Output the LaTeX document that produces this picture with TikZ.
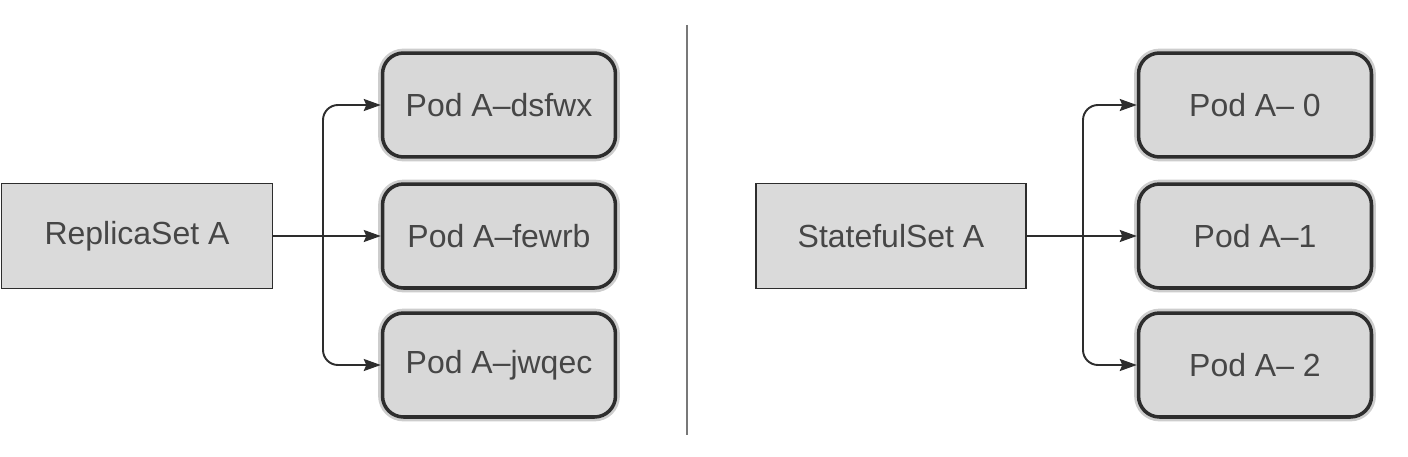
\documentclass[tikz,border=0pt]{standalone}
\usepackage{fontspec}
\setmainfont{Liberation Sans}
\usepackage{tikz}
\usetikzlibrary{arrows.meta,positioning,calc}
\definecolor{boxgray}{RGB}{218, 218, 218}
\definecolor{podgray}{RGB}{216, 216, 216}
\definecolor{edgedark}{RGB}{45, 45, 45}
\definecolor{textgray}{RGB}{70, 70, 70}
\definecolor{glowgray}{RGB}{205, 205, 205}
\definecolor{divgray}{RGB}{120, 120, 120}

\begin{document}
\begin{tikzpicture}[x=0.02cm,y=-0.02cm,
    font=\fontsize{18.2}{20}\selectfont, text=textgray,
    setbox/.style={draw=edgedark, line width=1.1pt, fill=boxgray,
        minimum width=5.42cm, minimum height=2.1cm},
    podbox/.style={draw=edgedark, line width=2pt, fill=podgray,
        rounded corners=0.42cm, minimum width=4.66cm, minimum height=2.08cm,
        preaction={draw=glowgray, line width=5pt}},
    link/.style={draw=edgedark, line width=1.1pt,
        -{Stealth[length=0.34cm,width=0.24cm,inset=0.05cm]}},
    divider/.style={draw=divgray, line width=1.6pt}]
    \useasboundingbox (0,0) rectangle (1408,456);
    % left half
    \node[setbox] (rsA) at (137,236) {ReplicaSet A};
    \node[podbox] (dsfwx) at (499,105) {Pod A--dsfwx};
    \node[podbox] (fewrb) at (499,236) {Pod A--fewrb};
    \node[podbox] (jwqec) at (499,365) {Pod A--jwqec};
    \coordinate (ltrunk) at (323,236);
    \draw[link] (rsA.east) -- (fewrb.west);
    \draw[link,rounded corners=0.3cm] (ltrunk) |- (dsfwx.west);
    \draw[link,rounded corners=0.3cm] (ltrunk) |- (jwqec.west);
    % separator
    \draw[divider] (687,25) -- (687,435);
    % right half
    \node[setbox, minimum width=5.4cm] (ssA) at (891,236) {StatefulSet A};
    \node[podbox] (pod0) at (1255,105) {Pod A-- 0};
    \node[podbox] (pod1) at (1255,236) {Pod A--1};
    \node[podbox] (pod2) at (1255,365) {Pod A-- 2};
    \coordinate (rtrunk) at (1083,236);
    \draw[link] (ssA.east) -- (pod1.west);
    \draw[link,rounded corners=0.3cm] (rtrunk) |- (pod0.west);
    \draw[link,rounded corners=0.3cm] (rtrunk) |- (pod2.west);
\end{tikzpicture}
\end{document}
